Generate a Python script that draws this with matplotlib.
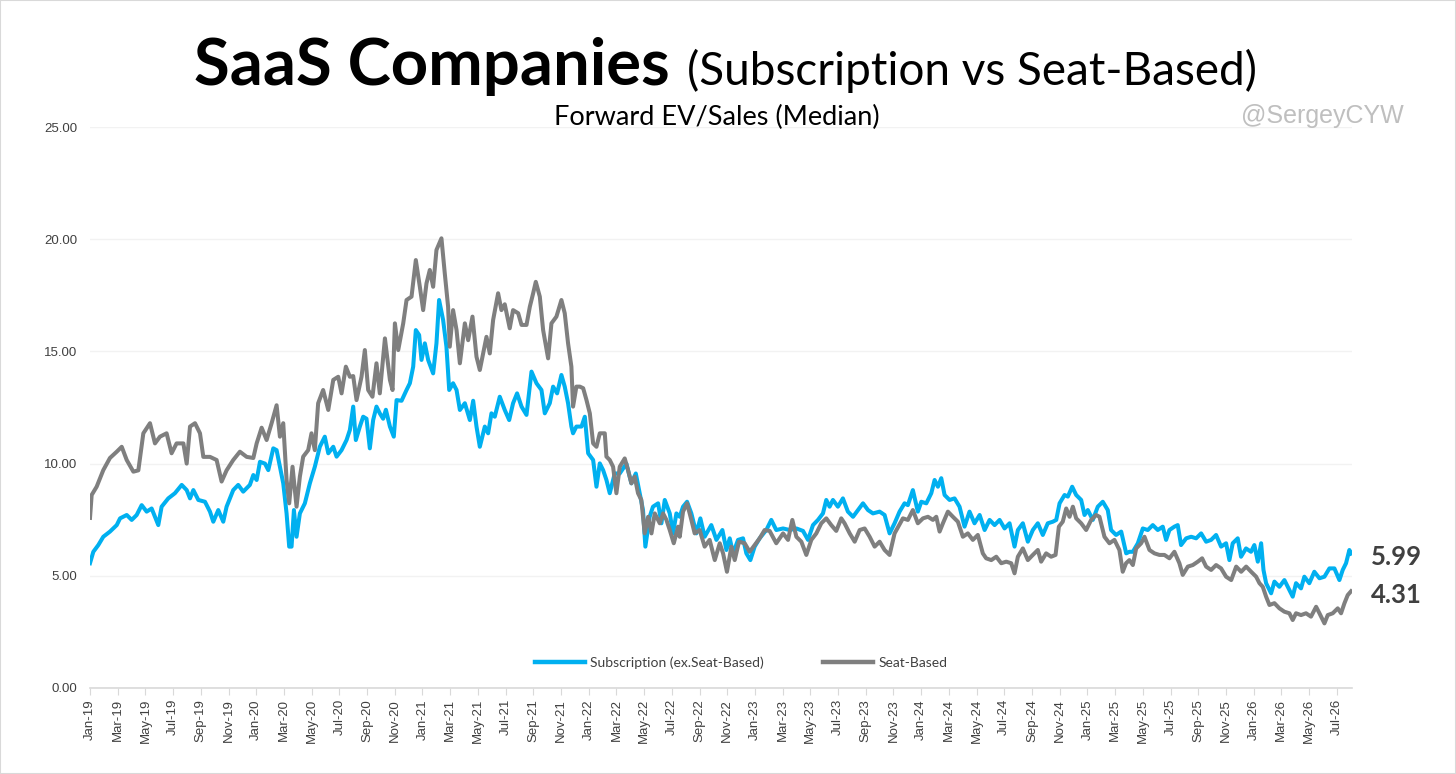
import numpy as np
import pandas as pd
import matplotlib
matplotlib.use("Agg")
import matplotlib.pyplot as plt
from matplotlib.patches import Rectangle

# Datos (x = meses desde ene-2019)

sub_month = [0.00, 0.24, 0.60, 0.96, 1.44, 1.93, 2.17, 2.65, 3.01, 3.37, 3.73, 4.09, 4.45, 4.93, 5.17,
             5.65, 6.13, 6.62, 6.98, 7.22, 7.46, 7.82, 8.30, 8.66, 8.90, 9.26, 9.62, 9.86, 10.34, 10.70,
             11.06, 11.54, 11.79, 12.03, 12.27, 12.63, 12.87, 13.23, 13.47, 13.71, 13.95, 14.19, 14.38,
             14.55, 14.72, 14.91, 15.15, 15.51, 15.87, 16.23, 16.59, 16.95, 17.20, 17.56, 17.80, 18.16,
             18.52, 18.76, 19.00, 19.19, 19.48, 19.72, 19.96, 20.20, 20.44, 20.68, 20.92, 21.16, 21.36,
             21.65, 21.93, 22.13, 22.49, 22.85, 23.09, 23.33, 23.52, 23.76, 23.93, 24.17, 24.41, 24.77,
             25.01, 25.20, 25.49, 25.73, 25.93, 26.21, 26.46, 26.70, 27.06, 27.42, 27.66, 27.90, 28.14,
             28.50, 28.74, 28.98, 29.22, 29.58, 29.94, 30.26, 30.54, 30.83, 31.15, 31.51, 31.87, 32.23,
             32.59, 32.83, 33.19, 33.43, 33.72, 34.03, 34.27, 34.51, 34.75, 34.87, 35.11, 35.48, 35.72,
             35.96, 36.32, 36.56, 36.80, 37.04, 37.28, 37.52, 37.88, 38.24, 38.72, 39.08, 39.40, 39.68,
             39.92, 40.09, 40.40, 40.64, 41.01, 41.25, 41.49, 41.85, 42.09, 42.33, 42.57, 42.81, 43.10,
             43.41, 43.77, 44.06, 44.37, 44.85, 45.22, 45.65, 45.94, 46.18, 46.42, 46.78, 47.14, 47.38,
             47.67, 47.98, 48.34, 48.82, 49.18, 49.54, 50.03, 50.51, 50.99, 51.47, 51.83, 52.19, 52.55,
             52.91, 53.15, 53.39, 53.63, 53.99, 54.35, 54.71, 55.08, 55.44, 55.80, 56.16, 56.52, 57.00,
             57.36, 57.72, 58.08, 58.44, 58.80, 59.04, 59.40, 59.76, 60.01, 60.37, 60.73, 60.97, 61.21,
             61.45, 61.69, 62.05, 62.41, 62.77, 63.13, 63.49, 63.85, 64.22, 64.58, 64.94, 65.30, 65.66,
             66.02, 66.38, 66.74, 66.98, 67.34, 67.70, 68.06, 68.42, 68.78, 69.14, 69.50, 69.75, 69.99,
             70.35, 70.59, 70.90, 71.19, 71.55, 71.79, 72.03, 72.39, 72.75, 73.11, 73.47, 73.71, 74.07,
             74.44, 74.80, 75.03, 75.28, 75.64, 76.00, 76.36, 76.72, 77.08, 77.44, 77.68, 77.92, 78.28,
             78.52, 78.76, 79.13, 79.49, 79.85, 80.21, 80.57, 80.93, 81.29, 81.65, 82.01, 82.25, 82.49,
             82.85, 83.09, 83.45, 83.81, 84.05, 84.30, 84.54, 84.71, 84.90, 85.26, 85.50, 85.86, 86.22,
             86.58, 86.82, 87.06, 87.42, 87.66, 88.02, 88.38, 88.75, 89.11, 89.47, 89.83, 90.19, 90.43,
             90.67, 90.91, 91.03]
sub_value = [5.56, 6.07, 6.37, 6.74, 6.97, 7.26, 7.56, 7.71, 7.49, 7.71, 8.15, 7.86, 8.00, 7.26, 8.08,
             8.45, 8.68, 9.05, 8.82, 8.45, 8.82, 8.38, 8.30, 7.86, 7.41, 7.93, 7.41, 8.08, 8.82, 9.05,
             8.75, 9.05, 9.49, 9.27, 10.08, 10.00, 9.71, 10.68, 10.60, 9.86, 9.12, 7.78, 6.30,
             6.30, 7.93, 6.74, 7.78, 8.23, 9.12, 9.86, 10.75, 11.20, 10.46, 10.75, 10.31, 10.60,
             11.05, 11.50, 12.54, 11.05, 11.65, 12.09, 12.00, 10.68, 11.94, 12.54, 12.24, 12.00, 12.40,
             11.65, 11.20, 12.83, 12.80, 13.28, 13.58, 14.32, 15.95, 15.73, 14.62, 15.36, 14.62, 14.02,
             15.36, 17.29, 16.40, 15.21, 13.28, 13.58, 13.28, 12.39, 12.69, 11.94, 12.80, 11.65, 10.75,
             11.65, 11.35, 12.24, 12.09, 12.98, 12.39, 11.94, 12.69, 13.13, 12.54, 12.17, 14.10, 13.58,
             13.28, 12.24, 12.69, 13.43, 13.13, 13.95, 13.43, 12.69, 11.65, 11.35, 11.65, 11.65, 12.09,
             10.46, 10.16, 8.97, 10.01, 9.71, 9.27, 8.68, 9.56, 9.56, 10.00, 9.12, 9.56, 8.68,
             7.93, 6.30, 7.63, 8.08, 8.23, 7.34, 8.38, 7.78, 6.89, 7.78, 7.63, 8.08, 8.30,
             7.78, 6.89, 7.56, 6.74, 7.26, 6.60, 7.04, 6.15, 6.67, 6.00, 6.60, 6.67, 6.00,
             5.70, 6.30, 6.67, 7.04, 7.49, 7.04, 7.11, 7.04, 7.11, 7.00, 6.60, 7.26, 7.49,
             7.78, 8.38, 8.08, 8.38, 8.08, 8.45, 7.86, 7.63, 7.93, 8.23, 7.93, 7.78, 7.86,
             7.71, 6.89, 7.34, 7.86, 8.23, 8.15, 8.82, 7.86, 8.30, 8.23, 8.68, 9.27, 8.97,
             9.35, 8.60, 8.38, 8.45, 8.08, 7.19, 7.86, 7.34, 7.71, 7.04, 7.49, 7.26, 7.49,
             7.11, 7.34, 6.30, 7.04, 7.34, 6.52, 7.04, 7.34, 6.82, 7.34, 7.41, 7.49, 8.23,
             8.60, 8.53, 8.97, 8.60, 8.38, 7.71, 7.93, 7.49, 8.08, 8.30, 7.93, 7.04, 6.82,
             6.97, 6.00, 6.07, 6.07, 6.45, 7.11, 7.04, 7.26, 7.04, 7.19, 6.60, 7.04, 7.19,
             7.26, 6.37, 6.67, 6.74, 6.67, 6.89, 6.52, 6.60, 6.82, 6.30, 6.45, 5.70, 6.45,
             6.67, 5.85, 6.22, 6.07, 6.37, 5.63, 6.45, 5.26, 4.67, 4.22, 4.74, 4.51, 4.81,
             4.37, 4.07, 4.67, 4.44, 4.96, 4.67, 5.18, 4.89, 4.96, 5.33, 5.33, 4.81, 5.26,
             5.56, 6.15, 5.99]

seat_month = [0.00, 0.12, 0.48, 0.96, 1.44, 1.93, 2.29, 2.65, 3.13, 3.49, 3.85, 4.33, 4.69, 5.05, 5.53,
              5.89, 6.25, 6.74, 6.98, 7.22, 7.58, 7.94, 8.18, 8.66, 9.14, 9.50, 9.86, 10.34, 10.82,
              11.31, 11.79, 12.03, 12.39, 12.75, 13.11, 13.47, 13.71, 13.95, 14.19, 14.38, 14.62, 14.91,
              15.15, 15.39, 15.75, 15.99, 16.23, 16.47, 16.83, 17.20, 17.56, 17.92, 18.16, 18.47, 18.76,
              19.00, 19.24, 19.60, 19.84, 20.08, 20.39, 20.68, 20.92, 21.29, 21.65, 21.84, 22.01, 22.25,
              22.61, 22.85, 23.21, 23.52, 23.81, 24.05, 24.29, 24.53, 24.77, 25.01, 25.37, 25.61, 25.85,
              25.97, 26.21, 26.46, 26.70, 27.06, 27.30, 27.61, 27.90, 28.14, 28.38, 28.62, 28.86, 29.10,
              29.46, 29.70, 29.94, 30.30, 30.54, 30.91, 31.15, 31.51, 31.75, 31.99, 32.18, 32.47, 32.71,
              33.07, 33.31, 33.67, 34.03, 34.27, 34.51, 34.75, 34.87, 35.11, 35.36, 35.60, 35.84, 36.08,
              36.32, 36.56, 36.80, 37.16, 37.28, 37.52, 37.76, 38.00, 38.24, 38.60, 38.84, 39.08, 39.32,
              39.56, 39.80, 40.04, 40.29, 40.53, 40.77, 41.13, 41.37, 41.61, 41.85, 42.14, 42.45, 42.57,
              42.81, 43.10, 43.41, 43.65, 44.01, 44.37, 44.73, 45.10, 45.46, 45.70, 45.98, 46.30, 46.54,
              46.85, 47.26, 47.62, 47.98, 48.34, 48.70, 49.06, 49.54, 50.03, 50.39, 50.70, 50.99, 51.35,
              51.71, 52.07, 52.43, 52.79, 53.15, 53.51, 53.87, 54.23, 54.47, 54.84, 55.20, 55.56, 55.92,
              56.28, 56.64, 57.00, 57.36, 57.72, 58.08, 58.68, 59.04, 59.40, 59.76, 60.13, 60.49, 60.85,
              61.09, 61.33, 61.57, 61.93, 62.29, 62.65, 63.01, 63.37, 63.73, 64.09, 64.45, 64.69, 65.06,
              65.42, 65.78, 66.14, 66.50, 66.74, 66.98, 67.34, 67.70, 68.06, 68.42, 68.66, 69.02, 69.38,
              69.70, 69.94, 70.22, 70.47, 70.71, 70.95, 71.19, 71.55, 71.91, 72.27, 72.63, 72.87, 73.23,
              73.59, 73.95, 74.31, 74.55, 74.79, 75.03, 75.28, 75.52, 75.88, 76.12, 76.48, 76.84, 77.20,
              77.56, 77.92, 78.28, 78.64, 78.88, 79.25, 79.61, 79.97, 80.28, 80.57, 80.93, 81.29, 81.65,
              82.01, 82.38, 82.74, 83.10, 83.46, 83.82, 84.18, 84.42, 84.66, 84.90, 85.14, 85.50, 85.86,
              86.22, 86.58, 86.82, 87.06, 87.42, 87.78, 88.14, 88.51, 88.75, 89.11, 89.35, 89.71, 90.07,
              90.31, 90.55, 90.79, 91.03]
seat_value = [7.58, 8.60, 8.97, 9.71, 10.25, 10.53, 10.75, 10.16, 9.64, 9.70, 11.35, 11.80, 10.90, 11.20, 11.35,
              10.46, 10.90, 10.90, 10.00, 11.65, 11.80, 11.35, 10.30, 10.30, 10.16, 9.20, 9.70, 10.16, 10.53,
              10.30, 10.25, 10.90, 11.60, 11.05, 11.80, 12.60, 11.20, 11.80, 9.27, 8.23, 9.86, 8.08,
              9.42, 10.31, 10.60, 11.35, 10.60, 12.69, 13.28, 12.39, 13.73, 13.87, 13.13, 14.32, 13.87,
              13.90, 12.83, 13.87, 15.06, 13.28, 12.98, 14.47, 13.13, 15.58, 13.73, 13.28, 16.25, 15.06,
              16.25, 17.29, 17.44, 19.07, 17.88, 16.84, 18.03, 18.63, 17.88, 19.52, 20.04, 18.48, 16.99,
              15.21, 16.84, 15.95, 14.47, 16.25, 15.50, 16.55, 14.76, 14.17, 14.91, 15.65, 14.91, 16.40,
              17.59, 16.84, 17.10, 16.03, 16.84, 16.70, 16.18, 16.18, 16.99, 17.59, 18.10, 17.44, 15.95,
              14.69, 16.25, 16.55, 17.29, 16.70, 15.36, 14.32, 12.54, 13.43, 13.43, 13.36, 12.83, 12.24,
              10.90, 10.75, 11.35, 11.35, 10.31, 10.16, 9.86, 8.68, 9.86, 10.23, 9.71, 9.12, 9.42,
              8.68, 8.38, 6.89, 7.63, 6.89, 7.78, 7.34, 7.78, 7.49, 7.04, 6.45, 7.19, 6.74,
              7.86, 8.23, 7.49, 6.89, 7.04, 6.30, 6.60, 5.70, 6.45, 6.00, 5.18, 6.30, 5.70,
              6.52, 6.45, 6.07, 6.37, 6.67, 7.04, 7.00, 6.45, 6.89, 6.60, 7.49, 6.74, 6.52,
              5.93, 6.60, 6.89, 7.34, 7.56, 7.26, 7.00, 7.56, 7.34, 6.89, 6.52, 7.04, 7.11,
              6.74, 6.30, 6.52, 6.15, 5.93, 6.89, 7.56, 7.49, 7.93, 7.34, 7.56, 7.63, 7.49,
              7.63, 6.97, 7.34, 7.86, 7.63, 7.41, 6.74, 6.89, 6.60, 6.82, 6.00, 5.78, 5.70,
              5.85, 5.56, 5.63, 5.56, 5.11, 5.85, 6.22, 5.70, 5.93, 6.15, 5.63, 6.00, 5.85,
              5.93, 7.19, 7.41, 8.00, 7.63, 8.08, 7.56, 7.34, 7.04, 7.49, 7.71, 7.63, 6.74,
              6.45, 6.60, 6.15, 5.18, 5.56, 5.70, 5.48, 6.22, 6.45, 6.74, 6.15, 6.00, 5.93,
              5.93, 5.78, 6.07, 5.56, 5.04, 5.41, 5.48, 5.63, 5.78, 5.41, 5.26, 5.48, 5.33,
              4.96, 4.81, 5.41, 5.18, 5.41, 5.18, 4.96, 4.67, 4.51, 4.07, 3.70, 3.78, 3.55,
              3.40, 3.33, 3.03, 3.33, 3.25, 3.33, 3.18, 3.62, 3.33, 2.88, 3.25, 3.33, 3.55,
              3.33, 3.77, 4.14, 4.31]

series_names = ["Subscription (ex.Seat-Based)", "Seat-Based"]
series_colors = ["#00B0F0", "#7F7F7F"]
end_labels = ["5.99", "4.31"]
y_ticks = [0, 5, 10, 15, 20, 25]
tick_months = list(range(0, 91, 2))
tick_labels = list(pd.date_range("2019-01-01", periods=len(tick_months), freq="2MS").strftime("%b-%y"))

W, H = 1456, 774
fig = plt.figure(figsize=(W / 100, H / 100), dpi=100)
ax = fig.add_axes([90 / W, 1 - 688 / H, (1352 - 90) / W, (688 - 127) / H])

ax.plot(sub_month, sub_value, color=series_colors[0], lw=2.9, label=series_names[0],
        solid_joinstyle="round", zorder=3)
ax.plot(seat_month, seat_value, color=series_colors[1], lw=2.9, label=series_names[1],
        solid_joinstyle="round", zorder=4)

ax.set_xlim(0, 91.1)
ax.set_ylim(0, 25)
ax.set_yticks(y_ticks)
ax.set_yticklabels([f"{v:.2f}" for v in y_ticks], fontsize=9.5, color="#404040",
                   fontfamily="Liberation Sans")
ax.set_xticks(tick_months)
ax.set_xticklabels(tick_labels, rotation=90, fontsize=9.5, color="#404040",
                   fontfamily="Liberation Sans")
ax.tick_params(axis="y", length=0, pad=9)
ax.tick_params(axis="x", length=5, color="#D9D9D9", pad=3, direction="out")
ax.grid(axis="y", color="#F2F2F2", lw=1)
ax.set_axisbelow(True)
for s in ["top", "right", "left"]:
    ax.spines[s].set_visible(False)
ax.spines["bottom"].set_color("#D9D9D9")
ax.spines["bottom"].set_linewidth(1.2)

# Etiquetas al final de cada serie
for lab, yv in zip(end_labels, [sub_value[-1] - 0.15, seat_value[-1] - 0.15]):
    ax.annotate(lab, xy=(sub_month[-1], yv), xytext=(20, 0), textcoords="offset pixels",
                fontsize=18.5, fontweight="bold", color="#404040", va="center", ha="left",
                fontfamily="Lato", annotation_clip=False)

leg = fig.legend(loc="center", bbox_to_anchor=(741 / W, 1 - 663 / H), ncol=2, frameon=False,
                 prop={"family": "Lato", "size": 10}, handlelength=3.6, columnspacing=4.3,
                 handletextpad=0.35)
for t in leg.get_texts():
    t.set_color("#404040")
for h in leg.legend_handles:
    h.set_linewidth(3.2)

# Titulo
fig.text(670 / W, 1 - 85 / H, "SaaS Companies", fontsize=47, fontweight="bold",
         fontfamily="Lato", ha="right", va="baseline", color="black")
fig.text(687 / W, 1 - 85 / H, "(Subscription vs Seat-Based)", fontsize=33,
         fontfamily="Lato", ha="left", va="baseline", color="black")
fig.text(717 / W, 1 - 125 / H, "Forward EV/Sales (Median)", fontsize=19.5,
         fontfamily="Lato", ha="center", va="baseline", color="black")
fig.text(1322 / W, 1 - 116 / H, "@SergeyCYW", fontsize=18, fontfamily="Liberation Sans",
         ha="center", va="center", color="#BFBFBF")

fig.patches.append(Rectangle((0, 0), 1, 1, transform=fig.transFigure, fill=False,
                             edgecolor="#D9D9D9", lw=1.5))

fig.savefig("out.png", dpi=100)
